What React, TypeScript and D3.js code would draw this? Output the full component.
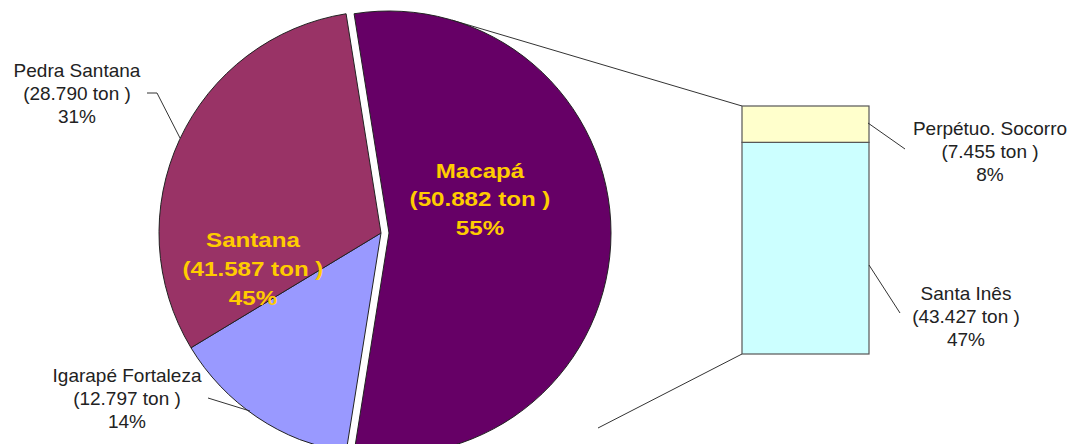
import React from "react";
import * as d3 from "d3";

const pieNames = ["Macapá", "Igarapé Fortaleza", "Pedra Santana"];
const pieValues = [50.882, 12.797, 28.79];
const pieLabelValues = ["50.882", "12.797", "28.790"];
const piePercents = ["55%", "14%", "31%"];
const pieColors = ["#660066", "#9999FF", "#993366"];

const groupName = "Santana";
const groupValue = "41.587";
const groupPercent = "45%";

const barNames = ["Santa Inês", "Perpétuo. Socorro"];
const barValues = [43.427, 7.455];
const barLabelValues = ["43.427", "7.455"];
const barPercents = ["47%", "8%"];
const barColors = ["#CCFFFF", "#FFFFCC"];

const W = 1075;
const H = 444;
const CX = 381;
const CY = 233;
const R = 222;
const EXPLODE = 8;
const FONT = "'Liberation Sans', Arial, sans-serif";

export default function App() {
  const total = d3.sum(pieValues);
  const macAngle = (pieValues[0] / total) * 2 * Math.PI;
  const start = Math.PI / 2 - macAngle / 2;
  const pie = d3
    .pie<number>()
    .sort(null)
    .value((d) => d)
    .startAngle(start)
    .endAngle(start + 2 * Math.PI);
  const arcs = pie(pieValues);
  const arc = d3.arc<d3.PieArcDatum<number>>().innerRadius(0).outerRadius(R);

  // bar
  const barX0 = 742;
  const barX1 = 869;
  const barTotal = d3.sum(barValues);
  const y = d3.scaleLinear().domain([0, barTotal]).range([354, 106]);
  const stacks: { y0: number; y1: number }[] = [];
  let acc = 0;
  barValues.forEach((v) => {
    stacks.push({ y0: acc, y1: acc + v });
    acc += v;
  });

  // Macapá center (exploded)
  const mcx = CX + EXPLODE;
  const mcy = CY;
  const tangent = (px: number, py: number, upper: boolean) => {
    const dx = px - mcx;
    const dy = py - mcy;
    const d = Math.hypot(dx, dy);
    const a = Math.atan2(dy, dx);
    const b = Math.acos(R / d);
    const t = upper ? a - b : a + b;
    return [mcx + R * Math.cos(t), mcy + R * Math.sin(t)];
  };
  const topT = tangent(barX0, y(barTotal), true);
  const botEnd = [598, 428];

  const txt = (
    lines: string[],
    x: number,
    y0: number,
    dy: number,
    size: number,
    color: string,
    bold = false,
    sx = 1
  ) => (
    <text
      x={x}
      y={y0}
      textAnchor="middle"
      fontFamily={FONT}
      fontSize={size}
      fontWeight={bold ? "bold" : "normal"}
      fill={color}
      transform={sx !== 1 ? `translate(${x},0) scale(${sx},1) translate(${-x},0)` : undefined}
    >
      {lines.map((l, i) => (
        <tspan key={i} x={x} y={y0 + i * dy}>
          {l}
        </tspan>
      ))}
    </text>
  );

  return (
    <svg
      width={W}
      height={H}
      style={{ position: "absolute", left: 0, top: 0, background: "#fff" }}
    >
      {/* connector lines */}
      <line x1={topT[0]} y1={topT[1]} x2={barX0} y2={y(barTotal)} stroke="#333" strokeWidth={1} />
      <line x1={botEnd[0]} y1={botEnd[1]} x2={barX0} y2={y(0)} stroke="#333" strokeWidth={1} />

      {/* pie */}
      {arcs.map((a, i) => {
        const dx = i === 0 ? EXPLODE : 0;
        return (
          <path
            key={i}
            d={arc(a) || ""}
            transform={`translate(${CX + dx},${CY})`}
            fill={pieColors[i]}
            stroke="#222"
            strokeWidth={1}
          />
        );
      })}

      {/* bar */}
      {stacks.map((s, i) => (
        <rect
          key={i}
          x={barX0}
          y={y(s.y1)}
          width={barX1 - barX0}
          height={y(s.y0) - y(s.y1)}
          fill={barColors[i]}
          stroke="#555"
          strokeWidth={1.2}
        />
      ))}

      {/* leader lines */}
      <polyline points="147,93 157,93 180,138" fill="none" stroke="#333" strokeWidth={1} />
      <polyline points="208,398 250,411" fill="none" stroke="#333" strokeWidth={1} />
      <polyline points="868,123 905,149" fill="none" stroke="#333" strokeWidth={1} />
      <polyline points="869,265 900,313" fill="none" stroke="#333" strokeWidth={1} />

      {/* inside labels */}
      {txt([groupName, `(${groupValue} ton )`, `${groupPercent}`], 253, 247, 29, 21, "#FFCC00", true, 1.15)}
      {txt([pieNames[0], `(${pieLabelValues[0]} ton )`, piePercents[0]], 480, 178, 28.5, 21, "#FFCC00", true, 1.15)}

      {/* outside labels */}
      {txt([pieNames[2], `(${pieLabelValues[2]} ton )`, piePercents[2]], 77, 77, 23, 19, "#222")}
      {txt([pieNames[1], `(${pieLabelValues[1]} ton )`, piePercents[1]], 127, 382, 23, 19, "#222")}
      {txt([barNames[1], `(${barLabelValues[1]} ton )`, barPercents[1]], 990, 135, 23, 19, "#222")}
      {txt([barNames[0], `(${barLabelValues[0]} ton )`, barPercents[0]], 966, 300, 23, 19, "#222")}
    </svg>
  );
}
